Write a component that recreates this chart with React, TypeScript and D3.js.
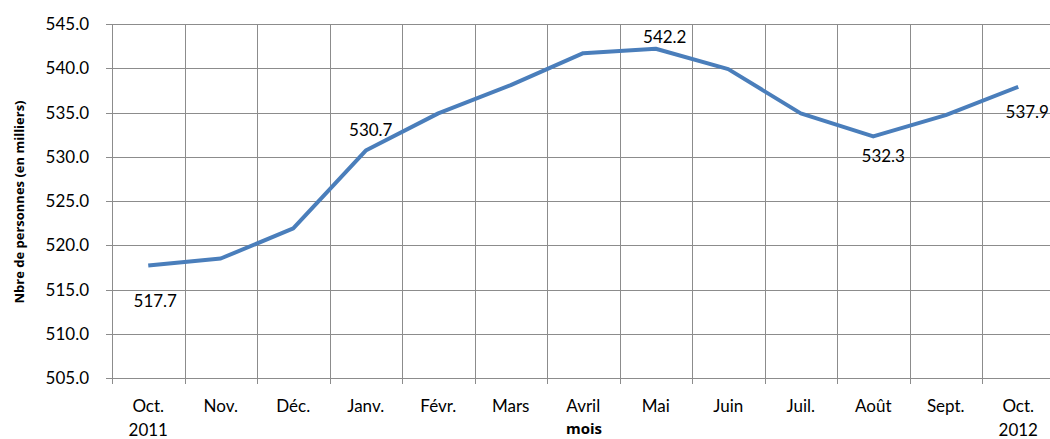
import React, { useEffect, useRef } from 'react';
import * as d3 from 'd3';

const months = ['Oct.', 'Nov.', 'Déc.', 'Janv.', 'Févr.', 'Mars', 'Avril', 'Mai', 'Juin', 'Juil.', 'Août', 'Sept.', 'Oct.'];
const years = ['2011', '', '', '', '', '', '', '', '', '', '', '', '2012'];
const persons = [517.7, 518.5, 521.9, 530.7, 534.9, 538.1, 541.7, 542.2, 539.9, 534.9, 532.3, 534.7, 537.9];
const yTicks = [505, 510, 515, 520, 525, 530, 535, 540, 545];
// which points get a value label, and where it sits relative to the point
const labelled = [
  { i: 0, dx: 7, dy: 41 },
  { i: 3, dx: 5, dy: -15 },
  { i: 7, dx: 9, dy: -6 },
  { i: 10, dx: 10, dy: 26 },
  { i: 12, dx: 9, dy: 31 },
];

const W = 1050;
const H = 439;
const FONT = 'Lato, "Open Sans", sans-serif';
const TITLE_FONT = '"Open Sans", sans-serif';

const App = () => {
  const svgRef = useRef<SVGSVGElement>(null);

  useEffect(() => {
    const svg = d3.select(svgRef.current);
    svg.selectAll('*').remove();

    const margin = { top: 24, left: 112, bottom: 378 };
    const keys = months.map((m, i) => `${i}`);

    const x = d3.scaleBand<string>()
      .domain(keys)
      .range([margin.left, margin.left + 13 * 72.5]);
    const y = d3.scaleLinear()
      .domain([505, 545])
      .range([margin.bottom, margin.top]);

    const grid = '#8c8c8c';
    const cx = (i: number) => (x(`${i}`) ?? 0) + x.bandwidth() / 2;

    // horizontal gridlines + left ticks
    svg.append('g')
      .selectAll('line')
      .data(yTicks)
      .enter().append('line')
      .attr('x1', margin.left - 6)
      .attr('x2', W)
      .attr('y1', d => Math.round(y(d)) + 0.5)
      .attr('y2', d => Math.round(y(d)) + 0.5)
      .attr('stroke', grid)
      .attr('stroke-width', 1);

    // vertical gridlines at category boundaries + bottom ticks
    svg.append('g')
      .selectAll('line')
      .data(keys)
      .enter().append('line')
      .attr('x1', d => Math.round(x(d) ?? 0) + 0.5)
      .attr('x2', d => Math.round(x(d) ?? 0) + 0.5)
      .attr('y1', margin.top)
      .attr('y2', margin.bottom + 6)
      .attr('stroke', grid)
      .attr('stroke-width', 1);

    // y tick labels
    svg.append('g')
      .selectAll('text')
      .data(yTicks)
      .enter().append('text')
      .attr('x', 89)
      .attr('y', d => y(d) + 6)
      .attr('text-anchor', 'end')
      .attr('font-family', FONT)
      .attr('font-size', 17)
      .attr('fill', '#000')
      .text(d => d.toFixed(1));

    // x labels
    const xl = svg.append('g')
      .selectAll('text')
      .data(months)
      .enter().append('text')
      .attr('text-anchor', 'middle')
      .attr('font-family', FONT)
      .attr('font-size', 17)
      .attr('fill', '#000');
    xl.append('tspan')
      .attr('x', (d, i) => cx(i))
      .attr('y', 412)
      .text(d => d);
    xl.append('tspan')
      .attr('x', (d, i) => cx(i))
      .attr('y', 436)
      .text((d, i) => years[i]);

    // axis titles
    svg.append('text')
      .attr('transform', `translate(24,${202}) rotate(-90)`)
      .attr('text-anchor', 'middle')
      .attr('font-family', TITLE_FONT)
      .attr('font-size', 13)
      .attr('font-weight', 'bold')
      .text('Nbre de personnes (en milliers)');

    svg.append('text')
      .attr('x', 584)
      .attr('y', 434)
      .attr('text-anchor', 'middle')
      .attr('font-family', TITLE_FONT)
      .attr('font-size', 15)
      .attr('font-weight', 'bold')
      .text('mois');

    // the line
    const line = d3.line<number>()
      .x((d, i) => cx(i))
      .y(d => y(d));

    svg.append('path')
      .datum(persons)
      .attr('d', line)
      .attr('fill', 'none')
      .attr('stroke', '#4a7ebb')
      .attr('stroke-width', 4)
      .attr('stroke-linejoin', 'round');

    // value labels
    svg.append('g')
      .selectAll('text')
      .data(labelled)
      .enter().append('text')
      .attr('x', d => cx(d.i) + d.dx)
      .attr('y', d => y(persons[d.i]) + d.dy)
      .attr('text-anchor', 'middle')
      .attr('font-family', FONT)
      .attr('font-size', 17)
      .attr('fill', '#000')
      .text(d => persons[d.i].toFixed(1));
  }, []);

  return (
    <svg
      ref={svgRef}
      width={W}
      height={H}
      style={{ position: 'absolute', left: 0, top: 0, background: '#fff' }}
    />
  );
};

export default App;
